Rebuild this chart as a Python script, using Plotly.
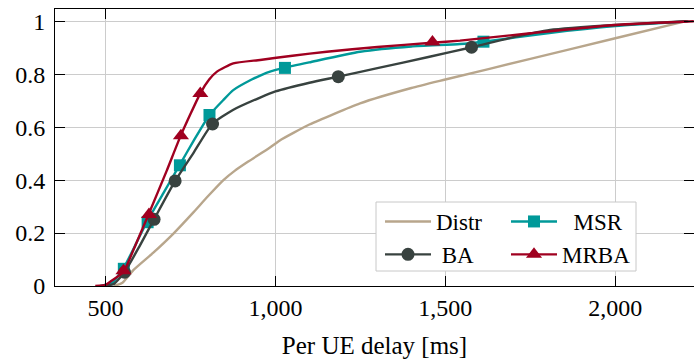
import plotly.graph_objects as go

# ---------------- data ----------------
distr_x = [525, 550, 582, 640, 700, 760, 800, 847, 880, 920, 984, 1013, 1100, 1249, 1400, 1500, 1750, 2000, 2205]
distr_y = [0.0, 0.012, 0.06, 0.125, 0.198, 0.28, 0.337, 0.40, 0.435, 0.47, 0.523, 0.55, 0.61, 0.69, 0.748, 0.78, 0.858, 0.936, 1.0]

msr_x = [485, 520, 553, 590, 622, 670, 718, 760, 806, 847, 876, 930, 960, 984, 1028, 1100, 1249, 1400, 1543, 1612, 1800, 2000, 2215]
msr_y = [0.0, 0.012, 0.067, 0.16, 0.243, 0.35, 0.457, 0.55, 0.646, 0.703, 0.74, 0.78, 0.798, 0.81, 0.825, 0.845, 0.885, 0.905, 0.914, 0.923, 0.955, 0.982, 1.0]
msr_mx = [554, 624, 719, 806, 1028, 1612]
msr_my = [0.065, 0.241, 0.456, 0.646, 0.824, 0.923]

ba_x = [495, 525, 556, 600, 643, 705, 760, 814, 875, 955, 1000, 1100, 1185, 1300, 1450, 1578, 1700, 1808, 2000, 2210]
ba_y = [0.0, 0.008, 0.052, 0.15, 0.252, 0.397, 0.505, 0.612, 0.665, 0.712, 0.735, 0.768, 0.791, 0.823, 0.865, 0.902, 0.94, 0.967, 0.986, 1.0]
ba_mx = [556, 643, 705, 815, 1185, 1577]
ba_my = [0.052, 0.252, 0.397, 0.612, 0.791, 0.902]

mrba_x = [470, 500, 514, 553, 590, 626, 680, 722, 779, 805, 828, 876, 955, 1050, 1151, 1300, 1460, 1543, 1750, 2000, 2231]
mrba_y = [0.0, 0.004, 0.016, 0.054, 0.16, 0.268, 0.435, 0.57, 0.728, 0.78, 0.81, 0.841, 0.854, 0.87, 0.885, 0.903, 0.919, 0.927, 0.955, 0.986, 1.0]
mrba_mx = [553, 628, 722, 779, 1462]
mrba_my = [0.058, 0.27, 0.568, 0.727, 0.922]

x_ticks = [500, 1000, 1500, 2000]
x_ticktext = ["500", "1,000", "1,500", "2,000"]
y_ticks = [0, 0.2, 0.4, 0.6, 0.8, 1.0]
y_ticktext = ["0", "0.2", "0.4", "0.6", "0.8", "1"]

# ---------------- styles ----------------
C_DISTR = "#b8a68c"
C_BA = "#38423f"
C_MSR = "#009999"
C_MRBA = "#a00020"
LW = 2.4
FONT = "Liberation Serif"

fig = go.Figure()

def add_series(xs, ys, color, mx=None, my=None, symbol=None, msize=12, legend="legend", label=""):
    fig.add_trace(go.Scatter(x=xs, y=ys, mode="lines", line=dict(color=color, width=LW, shape="spline", smoothing=0.5),
                             showlegend=False, hoverinfo="skip"))
    if mx is not None:
        fig.add_trace(go.Scatter(x=mx, y=my, mode="markers",
                                 marker=dict(symbol=symbol, size=msize, color=color, line=dict(width=0)),
                                 showlegend=False, hoverinfo="skip"))
    mode = "lines+markers" if mx is not None else "lines"
    fig.add_trace(go.Scatter(x=[None], y=[None], mode=mode, name=label,
                             line=dict(color=color, width=LW),
                             marker=dict(symbol=symbol or "circle", size=msize, color=color, line=dict(width=0)),
                             legend=legend, showlegend=True))

add_series(distr_x, distr_y, C_DISTR, legend="legend", label="Distr")
add_series(msr_x, msr_y, C_MSR, msr_mx, msr_my, "square", 12, legend="legend2", label="\u00a0\u00a0MSR")
add_series(ba_x, ba_y, C_BA, ba_mx, ba_my, "circle", 13, legend="legend", label="\u00a0BA")
add_series(mrba_x, mrba_y, C_MRBA, mrba_mx, mrba_my, "triangle-up", 14, legend="legend2", label="MRBA")

L, R, T, B = 55, 0, 9, 77
W, H = 694, 363
PW, PH = W - L - R, H - T - B

def px2paper_x(px):
    return (px - L) / PW

def py2paper_y(py):
    return (H - B - py) / PH

axis_common = dict(showgrid=True, gridcolor="#cccccc", gridwidth=1, zeroline=False,
                   showline=True, linecolor="black", linewidth=1, mirror="ticks",
                   ticks="inside", ticklen=10, tickcolor="black", tickwidth=1, automargin=False,
                   layer="above traces",
                   tickfont=dict(family=FONT, size=24, color="black"))

fig.update_layout(
    width=W, height=H,
    margin=dict(l=L, r=R, t=T, b=B, autoexpand=False),
    paper_bgcolor="white", plot_bgcolor="white",
    font=dict(family=FONT, color="black"),
    xaxis=dict(range=[351.5, 2231.5], tickmode="array", tickvals=x_ticks, ticktext=x_ticktext,
               title=dict(text="Per UE delay [ms]", font=dict(family=FONT, size=25, color="black"), standoff=16),
               **axis_common),
    yaxis=dict(range=[0, 1.0465], tickmode="array", tickvals=y_ticks, ticktext=y_ticktext,
               ticklabelstandoff=4, **axis_common),
    legend=dict(x=px2paper_x(380), y=py2paper_y(200), xanchor="left", yanchor="top",
                bgcolor="rgba(0,0,0,0)", borderwidth=0, itemwidth=46, tracegroupgap=0,
                font=dict(family=FONT, size=23, color="black")),
    legend2=dict(x=px2paper_x(506), y=py2paper_y(200), xanchor="left", yanchor="top",
                 bgcolor="rgba(0,0,0,0)", borderwidth=0, itemwidth=46, tracegroupgap=0,
                 font=dict(family=FONT, size=23, color="black")),
    shapes=[dict(type="rect", xref="paper", yref="paper",
                 x0=px2paper_x(376), x1=px2paper_x(636), y0=py2paper_y(271), y1=py2paper_y(202),
                 line=dict(color="#c8c8c8", width=1), fillcolor="white", layer="above")],
)

fig.write_html("out.html", config={"displayModeBar": False},
               post_script="document.body.style.margin='0';document.body.style.padding='0';")
